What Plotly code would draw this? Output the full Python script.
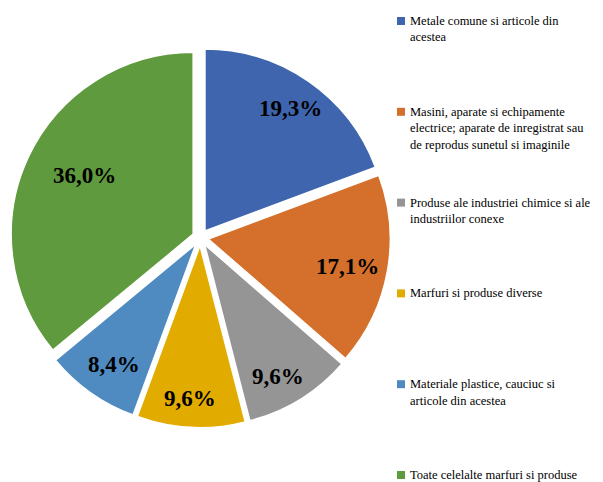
import math
import plotly.graph_objects as go

categories = [
    "Metale comune si articole din<br>acestea",
    "Masini, aparate si echipamente<br>electrice; aparate de inregistrat sau<br>de reprodus sunetul si imaginile",
    "Produse ale industriei chimice si ale<br>industriilor conexe",
    "Marfuri si produse diverse",
    "Materiale plastice, cauciuc si<br>articole din acestea",
    "Toate celelalte marfuri si produse",
]
values = [19.3, 17.1, 9.6, 9.6, 8.4, 36.0]
colors = ["#3F65AE", "#D4702B", "#959595", "#E2AB00", "#4F8BC0", "#5F9A3E"]

# page body has an 8px margin: figure occupies the window from (8, 8)
OFF = 8
W, H = 603 - OFF, 482 - OFF


def px(X):
    return (X - OFF) / W


def py(Y):
    return 1 - (Y - OFF) / H


SERIF = "Times New Roman"
labels_txt = [f"{v:.1f}".replace(".", ",") + "%" for v in values]

# pie geometry (window pixels)
cx, cy, R = 200.4, 237.6, 182.0
PULL = 0.044
label_r = [0.82, 0.78, 0.83, 0.84, 0.80, 0.68]
label_da = [0.0, 1.0, 2.5, 1.0, -1.0, 3.0]  # degrees

fig = go.Figure()
fig.add_trace(go.Pie(
    values=values,
    labels=[c.replace("<br>", " ") for c in categories],
    text=labels_txt,
    textinfo="none",
    sort=False,
    direction="clockwise",
    rotation=0,
    pull=[PULL] * len(values),
    marker=dict(colors=colors, line=dict(color="white", width=1.5)),
    domain=dict(x=[px(cx - R * (1 + PULL)), px(cx + R * (1 + PULL))],
                y=[py(cy + R * (1 + PULL)), py(cy - R * (1 + PULL))]),
    showlegend=False,
    hoverinfo="label+text",
))

# data labels at each slice's mid angle
total = sum(values)
cum = 0.0
for v, t, fr, da in zip(values, labels_txt, label_r, label_da):
    mid = (cum + v / 2) / total * 2 * math.pi
    cum += v
    sx = cx + R * PULL * math.sin(mid)
    sy = cy - R * PULL * math.cos(mid)
    a = mid + math.radians(da)
    lx = sx + fr * R * math.sin(a)
    ly = sy - fr * R * math.cos(a)
    fig.add_annotation(xref="paper", yref="paper", x=px(lx), y=py(ly),
                       xanchor="center", yanchor="middle", text=f"<b>{t}</b>",
                       showarrow=False,
                       font=dict(family=SERIF, size=23, color="black"))

# custom legend
leg_x_sq = 397
leg_x_txt = 408
first_y = 21
step = 90.8
line_h = 16.5
for i, (cat, col) in enumerate(zip(categories, colors)):
    yc = first_y + i * step
    fig.add_shape(type="rect", xref="paper", yref="paper",
                  x0=px(leg_x_sq), x1=px(leg_x_sq + 8),
                  y0=py(yc + 4), y1=py(yc - 4),
                  fillcolor=col, line=dict(width=0))
    for j, line in enumerate(cat.split("<br>")):
        fig.add_annotation(xref="paper", yref="paper",
                           x=px(leg_x_txt), y=py(yc + j * line_h),
                           xanchor="left", yanchor="middle",
                           text=line, showarrow=False,
                           font=dict(family=SERIF, size=12.5, color="black"))

fig.update_layout(
    width=W, height=H,
    margin=dict(l=0, r=0, t=0, b=0),
    paper_bgcolor="white", plot_bgcolor="white",
)
fig.write_html("out.html")
